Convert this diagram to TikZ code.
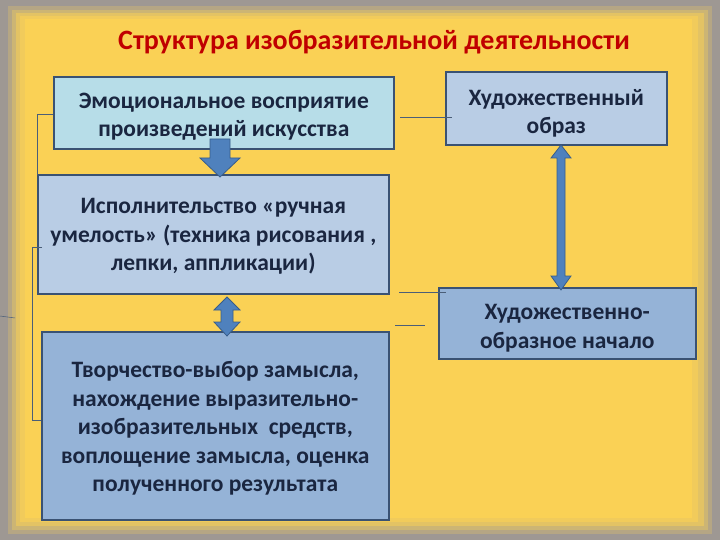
\documentclass[tikz,border=0pt]{standalone}
\usepackage{fontspec}
\setmainfont{Carlito}
\definecolor{frame}{HTML}{9E9893}
\definecolor{bgy}{HTML}{FAD155}
\definecolor{titlered}{HTML}{C00000}
\definecolor{txt}{HTML}{1A2640}
\definecolor{bord}{HTML}{3A5273}
\definecolor{fcyan}{HTML}{B7DDE8}
\definecolor{flight}{HTML}{B9CDE5}
\definecolor{fmid}{HTML}{95B3D7}
\definecolor{arrf}{HTML}{4F81BD}
\definecolor{arrb}{HTML}{385D8A}
\definecolor{thin}{HTML}{4A5E78}
\tikzset{
  boxnode/.style={draw=bord, line width=1.6pt, inner sep=0pt, anchor=north west},
  boxtext/.style={align=center, font=\fontsize{23.5}{28.5}\selectfont\bfseries, text=txt, inner sep=0pt},
  blockarr/.style={fill=arrf, draw=arrb, line width=0.8pt},
  thinline/.style={draw=thin, line width=0.5pt}
}
\begin{document}
\begin{tikzpicture}[x=1pt,y=-1pt]
\useasboundingbox (0,0) rectangle (720,540);
% frame and background
\fill[frame] (0,0) rectangle (720,540);
\fill[bgy!25!frame] (8,6) rectangle (712,534);
\fill[bgy!50!frame] (12,10) rectangle (708,530);
\fill[bgy!75!frame] (16,13) rectangle (704,526);
\fill[bgy!90!frame] (20,16) rectangle (698,522);
\fill[bgy] (25,19) rectangle (692,518);
% title
\node[font=\fontsize{28}{32}\selectfont\bfseries, text=titlered] (title) at (374,42) {Структура изобразительной деятельности};
% boxes
\node[boxnode, fill=fcyan, minimum width=340pt, minimum height=72pt] (b1) at (53,76) {};
\node[boxtext] (b1t) at ([yshift=-4pt]b1.center) {Эмоциональное восприятие\\произведений искусства};
\node[boxnode, fill=flight, minimum width=221pt, minimum height=73pt] (b2) at (445,71) {};
\node[boxtext] (b2t) at ([yshift=-5pt]b2.center) {Художественный\\образ};
\node[boxnode, fill=flight, minimum width=351pt, minimum height=119pt] (b3) at (37,174) {};
\node[boxtext] (b3t) at ([yshift=-2pt]b3.center) {Исполнительство «ручная\\умелость» (техника рисования ,\\лепки, аппликации)};
\node[boxnode, fill=fmid, minimum width=347pt, minimum height=188pt] (b4) at (41,331) {};
\node[boxtext] (b4t) at ([yshift=-2.5pt]b4.center) {Творчество-выбор замысла,\\нахождение выразительно-\\изобразительных~ средств,\\воплощение замысла, оценка\\полученного результата};
\node[boxnode, fill=fmid, minimum width=257pt, minimum height=71pt] (b5) at (438,287) {};
\node[boxtext] (b5t) at ([yshift=-5pt]b5.center) {Художественно-\\образное начало};
% thin lines
\coordinate (l1a) at (400,117); \coordinate (l1b) at (452,117);
\draw[thinline] (l1a) -- (l1b);
\coordinate (l2a) at (399,292); \coordinate (l2b) at (446,292);
\draw[thinline] (l2a) -- (l2b);
\coordinate (l3a) at (395,325); \coordinate (l3b) at (425,325);
\draw[thinline] (l3a) -- (l3b);
\coordinate (k1) at (53,114); \coordinate (k2) at (37,114); \coordinate (k3) at (37,175);
\draw[thinline] (k1) -- (k2) -- (k3);
\coordinate (m1) at (42,247); \coordinate (m2) at (32,247); \coordinate (m3) at (32,420); \coordinate (m4) at (41,420);
\draw[thinline] (m1) -- (m2) -- (m3) -- (m4);
\coordinate (t1) at (0,316); \coordinate (t2) at (15,318);
\draw[thinline] (t1) -- (t2);
% block arrow down b1 -> b3
\draw[blockarr] (210,139) -- (230,139) -- (230,158) -- (240,158) -- (220,177) -- (200,158) -- (210,158) -- cycle;
% double block arrow b3 <-> b4
\draw[blockarr] (227,297) -- (240,310) -- (233,310) -- (233,322) -- (240,322) -- (227,336) -- (214,322) -- (221,322) -- (221,310) -- (214,310) -- cycle;
% thin vertical double arrow b2 <-> b5
\draw[blockarr] (561,145) -- (571,158) -- (565,158) -- (565,276) -- (571,276) -- (561,290) -- (551,276) -- (557,276) -- (557,158) -- (551,158) -- cycle;
\end{tikzpicture}
\end{document}
